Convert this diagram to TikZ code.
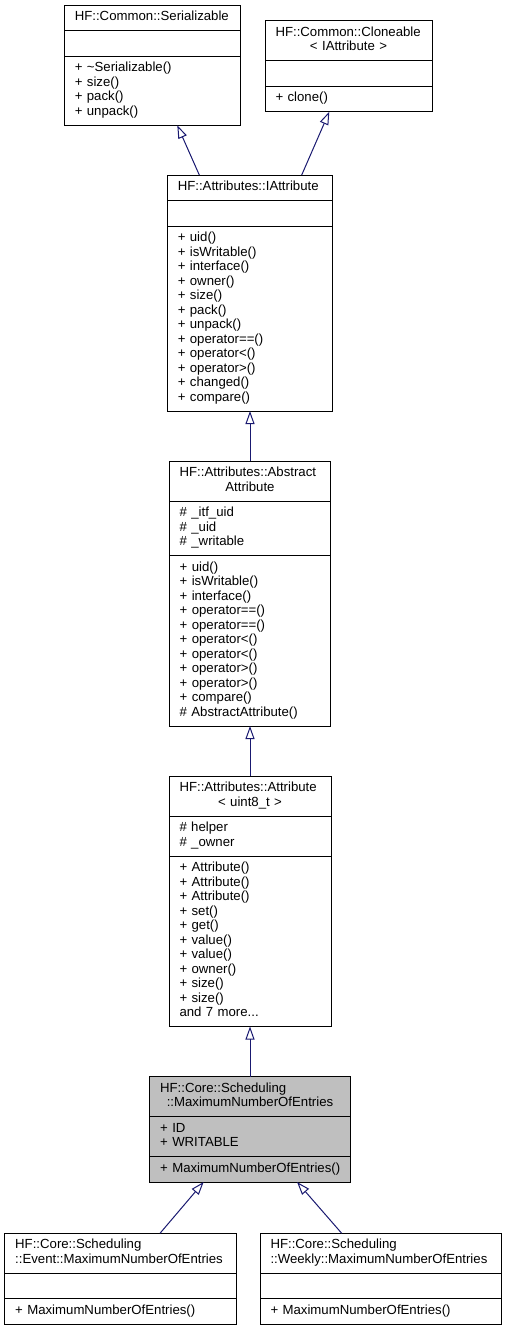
\documentclass[tikz,border=0pt]{standalone}
\usepackage{fontspec}
\setmainfont{Liberation Sans}
\usepackage{tikz}
\usetikzlibrary{arrows.meta,positioning}
\definecolor{edgeblue}{RGB}{25,25,112}
\definecolor{hilite}{RGB}{191,191,191}
\newcommand{\umlfont}{\fontsize{13.2}{14.5}\selectfont}
\newcommand{\twoline}[2]{#1\\\makebox[\linewidth]{#2}}

\begin{document}
\begin{tikzpicture}[
  x=1pt, y=-1pt,
  part/.style={draw=black, line width=1pt, fill=white, inner xsep=10.5pt,
               inner ysep=5.5pt, outer sep=0pt, align=left, font=\umlfont,
               execute at begin node=\strut, execute at end node=\strut},
  inh/.style={-{Triangle[open, length=13pt, width=9pt]}, color=edgeblue, line width=1pt}
]
  \useasboundingbox (0,0) rectangle (506,1331);

  % base classes
  \node[part, text width=155pt, anchor=north] (ser) at (152.3,5.3) {HF::Common::Serializable};
  \node[part, text width=155pt, below=0pt of ser]   (ser-a) {};
  \node[part, text width=155pt, below=0pt of ser-a] (ser-m) {+ \textasciitilde Serializable()\\+ size()\\+ pack()\\+ unpack()};

  \node[part, text width=146pt, anchor=north] (clo) at (348.5,20.7) {\twoline{HF::Common::Cloneable}{< IAttribute >}};
  \node[part, text width=146pt, below=0pt of clo]   (clo-a) {};
  \node[part, text width=146pt, below=0pt of clo-a] (clo-m) {+ clone()};

  % interface
  \node[part, text width=144.4pt, anchor=north] (iat) at (250,175) {HF::Attributes::IAttribute};
  \node[part, text width=144.4pt, below=0pt of iat]   (iat-a) {};
  \node[part, text width=144.4pt, below=0pt of iat-a] (iat-m) {+ uid()\\+ isWritable()\\+ interface()\\+ owner()\\+ size()\\+ pack()\\+ unpack()\\+ operator==()\\+ operator<()\\+ operator>()\\+ changed()\\+ compare()};

  % abstract attribute
  \node[part, text width=140.7pt, below=50pt of iat-m] (abs) {\twoline{HF::Attributes::Abstract}{Attribute}};
  \node[part, text width=140.7pt, below=0pt of abs]   (abs-a) {\# \_itf\_uid\\\# \_uid\\\# \_writable};
  \node[part, text width=140.7pt, below=0pt of abs-a] (abs-m) {+ uid()\\+ isWritable()\\+ interface()\\+ operator==()\\+ operator==()\\+ operator<()\\+ operator<()\\+ operator>()\\+ operator>()\\+ compare()\\\# AbstractAttribute()};

  % template attribute
  \node[part, text width=141pt, below=50pt of abs-m] (att) {\twoline{HF::Attributes::Attribute}{< uint8\_t >}};
  \node[part, text width=141pt, below=0pt of att]   (att-a) {\# helper\\\# \_owner};
  \node[part, text width=141pt, below=0pt of att-a] (att-m) {+ Attribute()\\+ Attribute()\\+ Attribute()\\+ set()\\+ get()\\+ value()\\+ value()\\+ owner()\\+ size()\\+ size()\\and 7 more...};

  % this class
  \node[part, fill=hilite, text width=179.7pt, below=50pt of att-m] (max) {\twoline{HF::Core::Scheduling}{::MaximumNumberOfEntries}};
  \node[part, fill=hilite, text width=179.7pt, below=0pt of max]   (max-a) {+ ID\\+ WRITABLE};
  \node[part, fill=hilite, text width=179.7pt, below=0pt of max-a] (max-m) {+~MaximumNumberOfEntries()};

  % derived classes
  \node[part, text width=211pt, anchor=north] (evt) at (120.7,1233.3) {HF::Core::Scheduling\\::Event::MaximumNumberOfEntries};
  \node[part, text width=211pt, below=0pt of evt]   (evt-a) {};
  \node[part, text width=211pt, below=0pt of evt-a] (evt-m) {+ MaximumNumberOfEntries()};

  \node[part, text width=220.3pt, anchor=north] (wek) at (380.65,1233.3) {HF::Core::Scheduling\\::Weekly::MaximumNumberOfEntries};
  \node[part, text width=220.3pt, below=0pt of wek]   (wek-a) {};
  \node[part, text width=220.3pt, below=0pt of wek-a] (wek-m) {+ MaximumNumberOfEntries()};

  % inheritance
  \draw[inh] ([xshift=32pt]iat.north west)    -- ([xshift=113pt]ser-m.south west);
  \draw[inh] ([xshift=134.4pt]iat.north west) -- ([xshift=64.3pt]clo-m.south west);
  \draw[inh] (abs) -- (iat-m);
  \draw[inh] (att) -- (abs-m);
  \draw[inh] (max) -- (att-m);
  \draw[inh] ([xshift=155.3pt]evt.north west) -- ([xshift=54pt]max-m.south west);
  \draw[inh] ([xshift=81.7pt]wek.north west)  -- ([xshift=147.4pt]max-m.south west);
\end{tikzpicture}
\end{document}
